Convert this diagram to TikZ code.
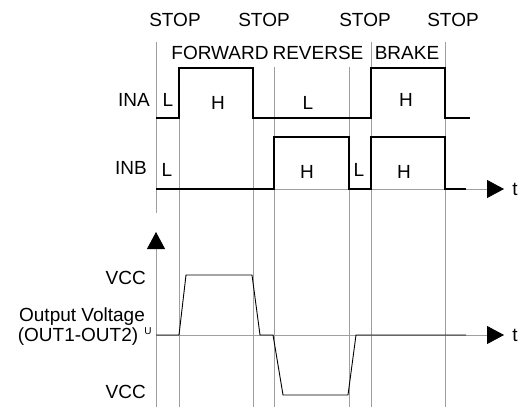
\documentclass[tikz,border=0pt]{standalone}
\usepackage{fontspec}
\setmainfont{Liberation Sans}
\usetikzlibrary{arrows.meta}

\begin{document}
\begin{tikzpicture}[x=1pt, y=-1pt,
  grid/.style={gray!75, line width=0.8pt},
  sig/.style={black, line width=1.6pt},
  outv/.style={black, line width=0.9pt},
  axis/.style={gray!75, line width=0.8pt, -{Triangle[length=17pt, width=18pt, black]}},
  lbl/.style={font=\fontsize{19}{21}\selectfont, inner sep=0pt},
  tiny/.style={font=\fontsize{10}{11}\selectfont, inner sep=0pt}
]
\useasboundingbox (0,0) rectangle (526,407);

% time marks
\draw[grid] (156,42) -- (156,213);
\draw[grid] (179,68) -- (179,407);
\draw[grid] (253,68) -- (253,407);
\draw[grid] (274,67) -- (274,407);
\draw[grid] (349,67) -- (349,407);
\draw[grid] (371,42) -- (371,407);
\draw[grid] (445,42) -- (445,407);

% axes
\draw[axis] (156,189) -- (504,189);
\draw[axis] (156,335) -- (504,335);
\draw[axis] (156,407) -- (156,232);

% phases
\node[lbl] (stop1) at (175,20) {STOP};
\node[lbl] (stop2) at (264,20) {STOP};
\node[lbl] (stop3) at (365,20) {STOP};
\node[lbl] (stop4) at (453,20) {STOP};
\node[lbl] (fwd) at (220,53) {FORWARD};
\node[lbl] (rev) at (318,53) {REVERSE};
\node[lbl] (brk) at (407,53) {BRAKE};

% INA
\draw[sig] (156,118) -- (179,118) -- (179,68) -- (253,68) -- (253,118)
  -- (371,118) -- (371,68) -- (445,68) -- (445,118) -- (470,118);
\node[lbl] (ina) at (134,100) {INA};
\node[lbl] (inaL1) at (168,100) {L};
\node[lbl] (inaH1) at (218,103) {H};
\node[lbl] (inaL2) at (308,103) {L};
\node[lbl] (inaH2) at (406,100) {H};

% INB
\draw[sig] (156,189) -- (274,189) -- (274,137) -- (349,137) -- (349,189)
  -- (371,189) -- (371,137) -- (445,137) -- (445,189) -- (466,189);
\node[lbl] (inb) at (131,168) {INB};
\node[lbl] (inbL1) at (167,170) {L};
\node[lbl] (inbH1) at (307,172) {H};
\node[lbl] (inbL2) at (359,170) {L};
\node[lbl] (inbH2) at (404,172) {H};
\node[lbl] (t1) at (515,189) {t};

% output voltage
\draw[outv] (156,335) -- (179,335) -- (186,275) -- (252,275) -- (260,335)
  -- (273,335) -- (283,395) -- (348,395) -- (356,335) -- (466,335);
\node[lbl, anchor=east] (vcchi) at (146,278) {VCC};
\node[lbl] (outname) at (82,317) {Output Voltage};
\node[lbl] (outdiff) at (78,337) {(OUT1-OUT2)};
\node[tiny] (zero) at (148,331) {U};
\node[lbl, anchor=east] (vcclo) at (146,392) {VCC};
\node[lbl] (t2) at (515,335) {t};

\end{tikzpicture}
\end{document}
